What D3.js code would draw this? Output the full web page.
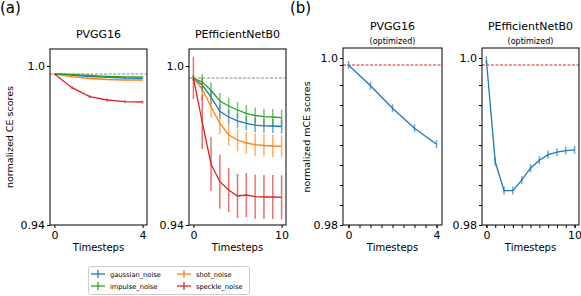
<!DOCTYPE html>
<html>
<head>
<meta charset="utf-8">
<script src="https://cdn.jsdelivr.net/npm/d3@7"></script>
<style>
body { margin: 0; background: #fff; }
text { font-family: "DejaVu Sans", sans-serif; fill: #000; }
</style>
</head>
<body>
<script>
// ---- data ----
const noiseNames = ["gaussian_noise", "shot_noise", "impulse_noise", "speckle_noise"];
const noiseColors = ["#1f77b4", "#ff7f0e", "#2ca02c", "#d62728"];

// (a) PVGG16
const vggSteps = [0, 0.8, 1.6, 2.4, 3.2, 4.0];
const vggGaussian = [1, 0.9996, 0.9990, 0.99869, 0.99841, 0.99829];
const vggShot = [1, 0.99893, 0.99821, 0.99781, 0.99762, 0.99762];
const vggImpulse = [1, 0.9998, 0.9994, 0.99909, 0.99889, 0.99881];
const vggSpeckle = [1, 0.99456, 0.99098, 0.98967, 0.98899, 0.98887];
const vggErrSmall = [0, 0.0002, 0.0002, 0.0002, 0.0002, 0.0002];
const vggErrSpeckle = [0, 0.0006, 0.0006, 0.0006, 0.0006, 0.0006];

// (a) PEfficientNetB0
const effSteps = [0, 1, 2, 3, 4, 5, 6, 7, 8, 9, 10];
const effGaussian = [1, 0.99714, 0.99216, 0.98641, 0.98408, 0.98253, 0.98151, 0.98073, 0.98049, 0.98041, 0.98020];
const effShot = [1, 0.99551, 0.98829, 0.98151, 0.97686, 0.97469, 0.97347, 0.97278, 0.97245, 0.97224, 0.97208];
const effImpulse = [1, 0.99837, 0.99498, 0.99061, 0.98857, 0.98694, 0.98559, 0.98469, 0.98420, 0.98408, 0.98380];
const effSpeckle = [1, 0.98204, 0.9649, 0.95767, 0.95429, 0.95184, 0.95224, 0.95155, 0.95143, 0.95143, 0.95131];
const effErrGaussian = [0.001, 0.0029, 0.0029, 0.0029, 0.0029, 0.0029, 0.0029, 0.0029, 0.0029, 0.0029, 0.0029];
const effErrShot = [0.001, 0.0045, 0.0045, 0.0045, 0.0045, 0.0045, 0.0045, 0.0045, 0.0045, 0.0045, 0.0045];
const effErrImpulse = [0.001, 0.0033, 0.0033, 0.0033, 0.0033, 0.0033, 0.0033, 0.0033, 0.0033, 0.0033, 0.0033];
const effErrSpeckle = [0.0086, 0.011, 0.011, 0.011, 0.009, 0.009, 0.009, 0.009, 0.009, 0.009, 0.009];

// (b) optimized
const optVggSteps = [0, 1, 2, 3, 4];
const optVgg = [1.0, 0.9974, 0.9946, 0.9921, 0.9901];
const optVggErr = [0.0005, 0.0005, 0.0005, 0.0005, 0.0005];
const optEffSteps = [0, 1, 2, 3, 4, 5, 6, 7, 8, 9, 10];
const optEff = [1.0006, 0.9879, 0.9843, 0.9843, 0.9856, 0.9871, 0.9881, 0.9888, 0.9891, 0.9893, 0.9894];
const optEffErr = [0.0005, 0.0005, 0.0005, 0.0005, 0.0005, 0.0005, 0.0005, 0.0005, 0.0005, 0.0005, 0.0005];

// tick labels
const yLabelsA = ["0.94", "1.0"];
const yLabelsB = ["0.98", "1.0"];

const svg = d3.select("body").append("svg").attr("width", 581).attr("height", 296)

let panels = [
    {
        title: "PVGG16", sub: null, box: [50, 49, 147, 225],
        xDomain: [-0.2, 4.2], yDomain: [0.94, 1.00993], xTicks: [0, 4], xMinor: [],
        yTicks: [0.94, 1.00318], yLabels: yLabelsA, yMinor: [], base: "#888",
        series: [
            {x: vggSteps, y: vggGaussian, e: vggErrSmall, c: noiseColors[0]},
            {x: vggSteps, y: vggShot, e: vggErrSmall, c: noiseColors[1]},
            {x: vggSteps, y: vggImpulse, e: vggErrSmall, c: noiseColors[2]},
            {x: vggSteps, y: vggSpeckle, e: vggErrSpeckle, c: noiseColors[3]}
        ]
    },
    {
        title: "PEfficientNetB0", sub: null, box: [189, 49, 286, 225],
        xDomain: [-0.5, 10.5], yDomain: [0.94, 1.01184], xTicks: [0, 10], xMinor: [],
        yTicks: [0.94, 1.0049], yLabels: yLabelsA, yMinor: [], base: "#888",
        series: [
            {x: effSteps, y: effGaussian, e: effErrGaussian, c: noiseColors[0]},
            {x: effSteps, y: effShot, e: effErrShot, c: noiseColors[1]},
            {x: effSteps, y: effImpulse, e: effErrImpulse, c: noiseColors[2]},
            {x: effSteps, y: effSpeckle, e: effErrSpeckle, c: noiseColors[3]}
        ]
    },
    {
        title: "PVGG16", sub: "(optimized)", box: [343, 48, 442, 225],
        xDomain: [-0.25, 4.25], yDomain: [0.98, 1.002125], xTicks: [0, 4], xMinor: d3.range(0, 4.01, 0.5),
        yTicks: [0.98, 1.000875], yLabels: yLabelsB, yMinor: d3.range(0.98, 1.0001, 0.0025), base: "#d62728",
        series: [{x: optVggSteps, y: optVgg, e: optVggErr, c: noiseColors[0]}]
    },
    {
        title: "PEfficientNetB0", sub: "(optimized)", box: [482, 48, 579, 225],
        xDomain: [-0.5, 10.5], yDomain: [0.98, 1.002125], xTicks: [0, 10], xMinor: d3.range(0, 10.1, 1),
        yTicks: [0.98, 1.000875], yLabels: yLabelsB, yMinor: d3.range(0.98, 1.0001, 0.0025), base: "#d62728",
        series: [{x: optEffSteps, y: optEff, e: optEffErr, c: noiseColors[0]}]
    }
]

let drawPanel = (p) => {
    const [x0, y0, x1, y1] = p.box
    const x = d3.scaleLinear().domain(p.xDomain).range([x0, x1])
    const y = d3.scaleLinear().domain(p.yDomain).range([y1, y0])
    const g = svg.append("g")

    // reference line at 1.0
    g.append("line")
        .attr("x1", x0).attr("x2", x1)
        .attr("y1", y(1)).attr("y2", y(1))
        .attr("stroke", p.base)
        .attr("stroke-width", 1)
        .attr("stroke-dasharray", "3,1.5")

    const line = d3.line().x(d => x(d[0])).y(d => y(d[1]))
    p.series.forEach(s => {
        const pts = s.x.map((v, i) => [v, s.y[i], s.e[i]])
        g.append("path")
            .datum(pts)
            .attr("d", line)
            .attr("fill", "none")
            .attr("stroke", s.c)
            .attr("stroke-width", 1.3)
        g.selectAll(null).data(pts).enter().append("line")
            .attr("x1", d => x(d[0])).attr("x2", d => x(d[0]))
            .attr("y1", d => y(d[1] - d[2])).attr("y2", d => y(d[1] + d[2]))
            .attr("stroke", s.c)
            .attr("stroke-opacity", 0.65)
            .attr("stroke-width", 1.5)
    })

    // frame
    g.append("rect")
        .attr("x", x0).attr("y", y0)
        .attr("width", x1 - x0).attr("height", y1 - y0)
        .attr("fill", "none").attr("stroke", "#000").attr("stroke-width", 1)

    // minor ticks
    if (p.xMinor.length) {
        g.append("g").attr("transform", "translate(0," + y1 + ")")
            .call(d3.axisBottom(x).tickValues(p.xMinor).tickSize(3).tickFormat(""))
            .call(a => a.select(".domain").remove())
    }
    if (p.yMinor.length) {
        g.append("g").attr("transform", "translate(" + x0 + ",0)")
            .call(d3.axisLeft(y).tickValues(p.yMinor).tickSize(3).tickFormat(""))
            .call(a => a.select(".domain").remove())
    }

    const xa = g.append("g").attr("transform", "translate(0," + y1 + ")")
        .call(d3.axisBottom(x).tickValues(p.xTicks).tickSize(3).tickPadding(3).tickFormat(d3.format("d")))
    xa.select(".domain").remove()
    xa.selectAll("text").attr("font-size", 11).attr("font-family", "DejaVu Sans")

    const ya = g.append("g").attr("transform", "translate(" + x0 + ",0)")
        .call(d3.axisLeft(y).tickValues(p.yTicks).tickSize(3).tickPadding(2).tickFormat((d, i) => p.yLabels[i]))
    ya.select(".domain").remove()
    ya.selectAll("text").attr("font-size", 11).attr("font-family", "DejaVu Sans")

    g.append("text")
        .attr("x", (x0 + x1) / 2).attr("y", 251)
        .attr("text-anchor", "middle").attr("font-size", 10)
        .text("Timesteps")

    if (p.sub) {
        g.append("text").attr("x", (x0 + x1) / 2).attr("y", 30)
            .attr("text-anchor", "middle").attr("font-size", 11).text(p.title)
        g.append("text").attr("x", (x0 + x1) / 2).attr("y", 44)
            .attr("text-anchor", "middle").attr("font-size", 8).text(p.sub)
    } else {
        g.append("text").attr("x", (x0 + x1) / 2).attr("y", 38)
            .attr("text-anchor", "middle").attr("font-size", 11).text(p.title)
    }
}

panels.forEach(drawPanel)

// panel letters and y labels
svg.append("text").attr("x", 0).attr("y", 13).attr("font-size", 15).text("(a)")
svg.append("text").attr("x", 290).attr("y", 13).attr("font-size", 15).text("(b)")
svg.append("text")
    .attr("transform", "translate(13,137) rotate(-90)")
    .attr("text-anchor", "middle").attr("font-size", 9.5)
    .text("normalized CE scores")
svg.append("text")
    .attr("transform", "translate(310,137) rotate(-90)")
    .attr("text-anchor", "middle").attr("font-size", 9.5)
    .text("normalized mCE scores")

// legend, two columns (gaussian/impulse, shot/speckle)
const legendOrder = [0, 2, 1, 3]
const leg = svg.append("g")
leg.append("rect")
    .attr("x", 88.5).attr("y", 266.5).attr("width", 161).attr("height", 28)
    .attr("rx", 2).attr("fill", "#fff").attr("stroke", "#ccc").attr("stroke-width", 1)
legendOrder.forEach((k, i) => {
    const col = Math.floor(i / 2), row = i % 2
    const hx = 91 + col * 86, hy = 274 + row * 12
    leg.append("line").attr("x1", hx).attr("x2", hx + 14).attr("y1", hy).attr("y2", hy)
        .attr("stroke", noiseColors[k]).attr("stroke-width", 1.3)
    leg.append("line").attr("x1", hx + 7).attr("x2", hx + 7).attr("y1", hy - 4).attr("y2", hy + 4)
        .attr("stroke", noiseColors[k]).attr("stroke-width", 1.3)
    leg.append("text").attr("x", hx + 19).attr("y", hy + 2.5)
        .attr("font-size", 6.7).text(noiseNames[k])
})
</script>
</body>
</html>
